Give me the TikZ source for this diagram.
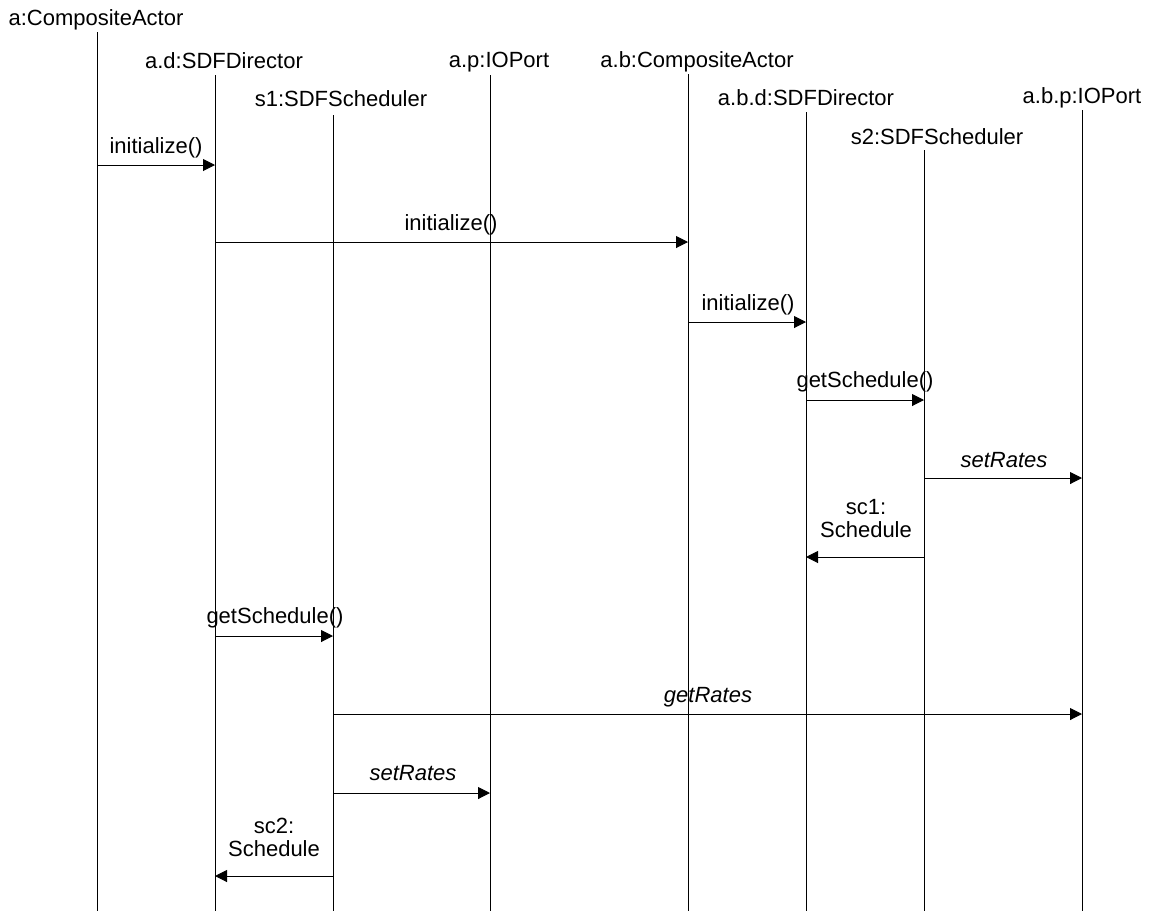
\documentclass[tikz,border=0pt]{standalone}
\usepackage{fontspec}
\setmainfont{Liberation Sans}
\usetikzlibrary{arrows.meta}
\begin{document}
\begin{tikzpicture}[x=1pt,y=-1pt,
  every node/.style={font=\fontsize{22}{23.5}\selectfont, inner sep=0pt},
  life/.style={line width=1pt},
  msg/.style={line width=1pt, -{Triangle[length=12pt,width=12pt]}},
  head/.style={anchor=base},
  lbl/.style={anchor=base},
  ret/.style={anchor=south, align=center}]
\useasboundingbox (0,0) rectangle (1151,911);
% lifeline tops and bottoms
\foreach \n/\x/\t in {A/97/32, B/215/75, C/333/115, D/490/75, E/688/74, F/806/112, G/924/150, H/1082/110}{
  \coordinate (\n top) at (\x,\t);
  \coordinate (\n bot) at (\x,911);
}
% heads
\node[head] (hA) at (96,25) {a:CompositeActor};
\node[head] (hB) at (224,68) {a.d:SDFDirector};
\node[head] (hC) at (341,106) {s1:SDFScheduler};
\node[head] (hD) at (499,67) {a.p:IOPort};
\node[head] (hE) at (697,67) {a.b:CompositeActor};
\node[head] (hF) at (806,105) {a.b.d:SDFDirector};
\node[head] (hG) at (937,144) {s2:SDFScheduler};
\node[head] (hH) at (1082,103) {a.b.p:IOPort};
\foreach \n in {A,B,C,D,E,F,G,H}{\draw[life] (\n top) -- (\n bot);}
% message points
\coordinate (m1s) at (97,165);  \coordinate (m1e) at (215,165);
\coordinate (m2s) at (215,242); \coordinate (m2e) at (688,242);
\coordinate (m3s) at (688,322); \coordinate (m3e) at (806,322);
\coordinate (m4s) at (806,400); \coordinate (m4e) at (924,400);
\coordinate (m5s) at (924,478); \coordinate (m5e) at (1082,478);
\coordinate (m6s) at (924,557); \coordinate (m6e) at (806,557);
\coordinate (m7s) at (215,636); \coordinate (m7e) at (333,636);
\coordinate (m8s) at (333,714); \coordinate (m8e) at (1082,714);
\coordinate (m9s) at (333,793); \coordinate (m9e) at (490,793);
\coordinate (m10s) at (333,876); \coordinate (m10e) at (215,876);
\foreach \i in {1,...,10}{\draw[msg] (m\i s) -- (m\i e);}
% labels
\node[lbl] (l1) at (156,153) {initialize()};
\node[lbl] (l2) at (451,230) {initialize()};
\node[lbl] (l3) at (748,310) {initialize()};
\node[lbl] (l4) at (865,387) {getSchedule()};
\node[lbl] (l5) at (1004,467) {\itshape setRates};
\node[ret] (l6) at (866,538) {sc1:\\Schedule};
\node[lbl] (l7) at (275,623) {getSchedule()};
\node[lbl] (l8) at (708,702) {\itshape getRates};
\node[lbl] (l9) at (413,780) {\itshape setRates};
\node[ret] (l10) at (274,857) {sc2:\\Schedule};
\end{tikzpicture}
\end{document}
